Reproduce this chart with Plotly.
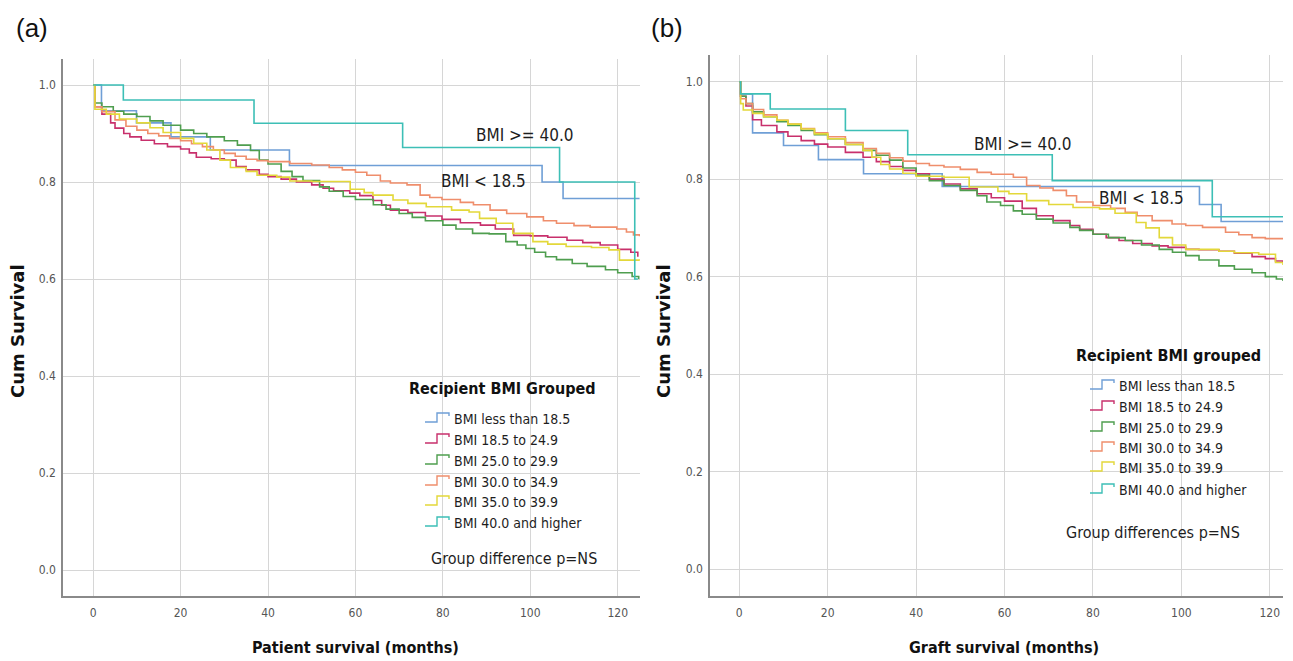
import plotly.graph_objects as go

# ---------------- data ----------------
groups = ["BMI less than 18.5", "BMI 18.5 to 24.9", "BMI 25.0 to 29.9",
          "BMI 30.0 to 34.9", "BMI 35.0 to 39.9", "BMI 40.0 and higher"]
colors = ["#6f9fd6", "#c8306c", "#4f9e4f", "#ef8e6c", "#e3d83a", "#3dbfb6"]

x_ticks = [0, 20, 40, 60, 80, 100, 120]
y_ticks = [0.0, 0.2, 0.4, 0.6, 0.8, 1.0]
y_tick_text = ["0.0", "0.2", "0.4", "0.6", "0.8", "1.0"]

# Panel (a): patient survival (months)
a_t_g1 = [0, 1.9, 9.9, 17.8, 26.8, 44.9, 102.7, 107.5, 125]
a_s_g1 = [1.0, 0.947, 0.922, 0.893, 0.866, 0.834, 0.80, 0.766, 0.766]
a_t_g2 = [0, 0.4, 2, 4, 5, 7, 8.4, 11, 14, 17, 20, 22, 23.6, 27, 30, 32.7, 35, 38, 40, 43,
          46.5, 50, 52.6, 55, 58.7, 61, 64, 66, 68, 72, 76, 79.8, 84, 88.6, 92, 96.2, 100,
          104, 108.4, 112, 116, 120, 123, 124.6]
a_s_g2 = [1.0, 0.955, 0.94, 0.922, 0.911, 0.90, 0.893, 0.886, 0.879, 0.873, 0.868, 0.86,
          0.851, 0.848, 0.845, 0.832, 0.825, 0.816, 0.811, 0.806, 0.80, 0.794, 0.787, 0.782,
          0.777, 0.772, 0.762, 0.752, 0.742, 0.737, 0.73, 0.723, 0.716, 0.711, 0.703, 0.69,
          0.689, 0.686, 0.68, 0.675, 0.67, 0.661, 0.655, 0.646]
a_t_g3 = [0, 0.4, 2, 4.6, 7, 10, 13, 16, 20, 23, 26, 30, 33, 36, 38, 40, 43, 45.5, 48, 51.8,
          54, 57.2, 60, 64.1, 67, 70, 73, 76, 80, 83, 86.8, 90.6, 94.4, 97, 99, 101, 103.5,
          106, 109.6, 113, 117.2, 120, 123.3, 124.8]
a_s_g3 = [1.0, 0.963, 0.955, 0.946, 0.94, 0.935, 0.926, 0.917, 0.907, 0.90, 0.893, 0.885,
          0.876, 0.865, 0.845, 0.837, 0.822, 0.811, 0.803, 0.79, 0.781, 0.77, 0.764, 0.753,
          0.744, 0.735, 0.727, 0.72, 0.711, 0.703, 0.694, 0.693, 0.677, 0.67, 0.663, 0.655,
          0.646, 0.64, 0.632, 0.626, 0.619, 0.613, 0.605, 0.60]
a_t_g4 = [0, 0.4, 2, 5, 7.5, 10, 12.5, 15, 17.5, 20, 22.5, 25, 27.5, 30, 32.5, 35, 37.5, 40,
          45, 50, 54, 57, 60, 62.6, 65.7, 68, 71.8, 74.8, 77, 79.8, 84, 87, 90.8, 94.6, 99.2,
          103, 106, 110, 113.7, 119.8, 122, 123.6, 125]
a_s_g4 = [1.0, 0.955, 0.945, 0.928, 0.915, 0.907, 0.90, 0.895, 0.89, 0.885, 0.879, 0.873,
          0.866, 0.859, 0.853, 0.847, 0.844, 0.842, 0.838, 0.835, 0.83, 0.825, 0.82, 0.814,
          0.802, 0.798, 0.794, 0.773, 0.768, 0.764, 0.758, 0.753, 0.742, 0.735, 0.728, 0.72,
          0.715, 0.71, 0.707, 0.703, 0.697, 0.691, 0.688]
a_t_g5 = [0, 0.4, 3, 6, 10, 13, 16, 20, 23, 26, 29, 31.4, 35, 37.5, 42, 45, 50, 58.8, 62, 64,
          68.6, 72, 76.2, 82, 86, 88.4, 92.2, 96, 100.6, 104, 108.2, 114, 118, 120.4, 125]
a_s_g5 = [1.0, 0.95, 0.94, 0.93, 0.922, 0.912, 0.902, 0.89, 0.88, 0.866, 0.845, 0.83, 0.822,
          0.814, 0.81, 0.802, 0.801, 0.785, 0.778, 0.773, 0.763, 0.756, 0.749, 0.742, 0.738,
          0.725, 0.715, 0.694, 0.677, 0.672, 0.667, 0.665, 0.66, 0.639, 0.638]
a_t_g6 = [0, 6.9, 36.8, 70.8, 106.7, 123.9, 124.6]
a_s_g6 = [1.0, 0.969, 0.921, 0.871, 0.80, 0.60, 0.60]

# Panel (b): graft survival (months)
b_t_g1 = [0, 0.3, 3.0, 10, 17.9, 28.1, 45.9, 104.1, 109, 123]
b_s_g1 = [1.0, 0.975, 0.895, 0.869, 0.84, 0.811, 0.785, 0.748, 0.713, 0.713]
b_t_g2 = [0, 0.3, 1.5, 3, 5, 8.5, 11, 14, 17, 20, 24, 28, 31, 34, 37, 40, 43, 46.3, 50, 53.8,
          57, 60, 64, 67.2, 71, 74.8, 77, 80, 83, 85.9, 89, 93.4, 97, 101, 104, 108.5, 112,
          116, 119, 121.3, 123]
b_s_g2 = [1.0, 0.97, 0.95, 0.922, 0.91, 0.897, 0.888, 0.879, 0.872, 0.866, 0.855, 0.845,
          0.836, 0.826, 0.818, 0.811, 0.80, 0.79, 0.78, 0.77, 0.762, 0.755, 0.74, 0.725,
          0.715, 0.705, 0.697, 0.687, 0.68, 0.674, 0.668, 0.663, 0.66, 0.656, 0.655, 0.652,
          0.648, 0.641, 0.637, 0.632, 0.63]
b_t_g3 = [0, 0.3, 1.5, 3, 5.5, 8.5, 11, 14, 17, 20, 24, 28, 31, 34, 37, 40, 43, 46.3, 50,
          53.8, 56, 59.1, 62, 64, 67.2, 71, 74.8, 77, 80, 83.5, 87.3, 91, 95, 98, 101, 104,
          108.5, 112, 116, 119, 121.5, 123]
b_s_g3 = [1.0, 0.97, 0.955, 0.938, 0.928, 0.918, 0.91, 0.90, 0.891, 0.883, 0.871, 0.859,
          0.849, 0.839, 0.823, 0.808, 0.797, 0.787, 0.777, 0.766, 0.753, 0.746, 0.735, 0.728,
          0.718, 0.71, 0.701, 0.695, 0.687, 0.68, 0.674, 0.665, 0.656, 0.65, 0.643, 0.634,
          0.622, 0.615, 0.608, 0.60, 0.595, 0.591]
b_t_g4 = [0, 0.3, 1.5, 3, 5.5, 8.5, 11, 14, 17, 20, 24, 28, 31, 34, 37, 40, 43, 46.3, 50,
          53.8, 57, 62, 65, 68, 71, 74, 76.3, 80, 84, 87.3, 90, 93.4, 97.9, 101, 104.8, 110,
          113, 116, 119, 123]
b_s_g4 = [1.0, 0.965, 0.955, 0.943, 0.932, 0.921, 0.913, 0.904, 0.895, 0.887, 0.875, 0.863,
          0.853, 0.844, 0.837, 0.832, 0.828, 0.825, 0.82, 0.814, 0.81, 0.804, 0.787, 0.782,
          0.777, 0.766, 0.753, 0.746, 0.74, 0.732, 0.725, 0.715, 0.708, 0.705, 0.701, 0.691,
          0.686, 0.68, 0.678, 0.677]
b_t_g5 = [0, 0.3, 0.9, 3, 5.5, 8.5, 11, 14, 17, 20, 24, 28, 30, 32, 34, 37, 40, 46.3, 52,
          58.5, 61, 65, 70, 75.5, 81.5, 85, 89.8, 92, 95, 98, 101, 108.5, 112, 117.5, 121.3, 123]
b_s_g5 = [1.0, 0.955, 0.942, 0.935, 0.928, 0.921, 0.913, 0.903, 0.893, 0.883, 0.871, 0.859,
          0.845, 0.83, 0.821, 0.812, 0.806, 0.804, 0.784, 0.775, 0.77, 0.756, 0.748, 0.742,
          0.739, 0.73, 0.711, 0.70, 0.68, 0.665, 0.656, 0.652, 0.649, 0.646, 0.629, 0.624]
b_t_g6 = [0, 0.3, 7.0, 24, 38.1, 70.8, 107, 123]
b_s_g6 = [1.0, 0.975, 0.944, 0.90, 0.85, 0.797, 0.723, 0.723]

panel_a = [(a_t_g1, a_s_g1), (a_t_g2, a_s_g2), (a_t_g3, a_s_g3),
           (a_t_g4, a_s_g4), (a_t_g5, a_s_g5), (a_t_g6, a_s_g6)]
panel_b = [(b_t_g1, b_s_g1), (b_t_g2, b_s_g2), (b_t_g3, b_s_g3),
           (b_t_g4, b_s_g4), (b_t_g5, b_s_g5), (b_t_g6, b_s_g6)]

# ---------------- figure ----------------
# the page adds an 8 px body margin, so the figure is drawn 8 px smaller and
# every layout position below is given in window pixels and shifted by OFF
OFF = 8
W, H = 1293 - OFF, 661 - OFF
COND = "DejaVu Sans Condensed, DejaVu Sans, sans-serif"


def px(x):
    return (x - OFF) / W


def py(y):
    return 1 - (y - OFF) / H


fig = go.Figure()
for i, (t, s) in enumerate(panel_a):
    fig.add_trace(go.Scatter(x=t, y=s, mode="lines", line=dict(color=colors[i], width=1.6, shape="hv"),
                             name=groups[i], showlegend=False, xaxis="x", yaxis="y"))
for i, (t, s) in enumerate(panel_b):
    fig.add_trace(go.Scatter(x=t, y=s, mode="lines", line=dict(color=colors[i], width=1.6, shape="hv"),
                             name=groups[i], showlegend=False, xaxis="x2", yaxis="y2"))

axis_common = dict(
    showgrid=True, gridcolor="#d6d6d6", gridwidth=1.4, zeroline=False,
    showline=True, linecolor="#8a8a8a", linewidth=1.5, ticks="",
    tickfont=dict(family=COND, size=12, color="#555555"), automargin=False,
)

fig.update_layout(
    width=W, height=H, margin=dict(l=0, r=0, t=0, b=0),
    paper_bgcolor="white", plot_bgcolor="white", showlegend=False,
    xaxis=dict(domain=[px(63), px(640)], range=[-6.9, 125.1], tickvals=x_ticks,
               anchor="y", ticklabelstandoff=5, **axis_common),
    yaxis=dict(domain=[py(596), py(59)], range=[-0.0536, 1.0536], tickvals=y_ticks,
               ticktext=y_tick_text, anchor="x", ticklabelstandoff=3, **axis_common),
    xaxis2=dict(domain=[px(710), px(1283)], range=[-6.63, 123.0], tickvals=x_ticks,
                anchor="y2", ticklabelstandoff=5, **axis_common),
    yaxis2=dict(domain=[py(596), py(55)], range=[-0.0554, 1.0548], tickvals=y_ticks,
                ticktext=y_tick_text, anchor="x2", ticklabelstandoff=3, **axis_common),
)

ann = []
shapes = []


def text(x, y, s, size, bold=False, anchor="center", angle=0, family=COND, color="#1e1e1e"):
    ann.append(dict(x=px(x), y=py(y), xref="paper", yref="paper", showarrow=False,
                    text=("<b>%s</b>" % s) if bold else s, xanchor=anchor, yanchor="middle",
                    textangle=angle, font=dict(family=family, size=size, color=color)))


# panel labels
text(32, 28, "(a)", 26, family="Liberation Sans, Arial, sans-serif", color="#111111")
text(667, 28, "(b)", 26, family="Liberation Sans, Arial, sans-serif", color="#111111")

# axis titles
text(18, 331, "Cum Survival", 18, bold=True, angle=-90, family="DejaVu Sans, sans-serif", color="#111111")
text(664, 331, "Cum Survival", 18, bold=True, angle=-90, family="DejaVu Sans, sans-serif", color="#111111")
text(355, 647, "Patient survival (months)", 16, bold=True, color="#111111")
text(1004, 647, "Graft survival (months)", 16, bold=True, color="#111111")

# curve labels
text(525, 135, "BMI >= 40.0", 17)
text(483, 181, "BMI < 18.5", 17)
text(1023, 144, "BMI >= 40.0", 17)
text(1141, 198, "BMI < 18.5", 17)


def legend(title, tx, ty, icon_x, rows_y, note, nx, ny):
    text(tx, ty, title, 16, bold=True, color="#111111")
    for i, ry in enumerate(rows_y):
        x0 = icon_x
        yl, yh = ry + 3, ry - 6
        path = "M %f,%f L %f,%f L %f,%f L %f,%f L %f,%f" % (
            px(x0), py(yl), px(x0 + 12), py(yl), px(x0 + 12), py(yh),
            px(x0 + 24), py(yh), px(x0 + 24), py(yh + 3))
        shapes.append(dict(type="path", path=path, xref="paper", yref="paper",
                           line=dict(color=colors[i], width=1.4)))
        text(icon_x + 27, ry, groups[i], 14, anchor="left")
    text(nx, ny, note, 16)


legend("Recipient BMI Grouped", 502, 388, 425, [419, 440, 461, 482, 502, 523],
       "Group difference p=NS", 514, 558)
legend("Recipient BMI grouped", 1168, 355, 1090, [386, 407, 428, 448, 468, 490],
       "Group differences p=NS", 1153, 532)

fig.update_layout(annotations=ann, shapes=shapes)
fig.write_html("out.html")
